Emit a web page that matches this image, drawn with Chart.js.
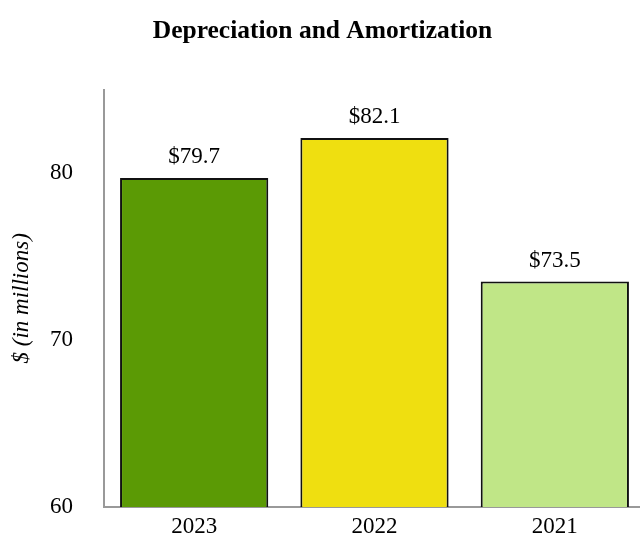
<!DOCTYPE html>
<html>
<head>
<meta charset="utf-8">
<script src="https://cdn.jsdelivr.net/npm/chart.js@4.4.0/dist/chart.umd.min.js"></script>
<style>
  html, body { margin: 0; padding: 0; background: #fff; overflow: hidden; }
  canvas { display: block; }
</style>
</head>
<body>
<!-- 원본 차트는 오른쪽이 살짝 잘려 있어 캔버스를 조금 넓게 둠 -->
<canvas id="chart" width="645" height="545"></canvas>
<script>
"use strict";

const years = ["2023", "2022", "2021"];
const amounts = [79.7, 82.1, 73.5];
const barColors = ["#5b9a05", "#efdf10", "#c0e687"];
const yTicks = [60, 70, 80];
const yTitle = "$ (in millions)";

const serif = "'Liberation Serif', 'Times New Roman', serif";

// 막대 위에 금액 표시 + 세로축 제목
const valueLabels = {
  id: "valueLabels",
  afterDatasetsDraw(chart) {
    const ctx = chart.ctx;
    const meta = chart.getDatasetMeta(0);
    const area = chart.chartArea;
    ctx.save();
    ctx.font = "23px " + serif;
    ctx.fillStyle = "#000";
    ctx.textAlign = "center";
    ctx.textBaseline = "alphabetic";
    meta.data.forEach((bar, i) => {
      ctx.fillText("$" + amounts[i].toFixed(1), bar.x, bar.y - 15);
    });

    // 세로축 제목
    ctx.translate(22, (area.top + area.bottom) / 2);
    ctx.rotate(-Math.PI / 2);
    ctx.font = "italic 23px " + serif;
    ctx.textBaseline = "middle";
    ctx.fillText(yTitle, 0, 0);
    ctx.restore();
  }
};

new Chart(document.getElementById("chart").getContext("2d"), {
  type: "bar",
  data: {
    labels: years,
    datasets: [
      {
        data: amounts,
        backgroundColor: barColors,
        borderColor: "#111",
        borderWidth: 2,
        borderSkipped: false,
        categoryPercentage: 1,
        barPercentage: 0.822
      }
    ]
  },
  options: {
    responsive: false,
    animation: false,
    layout: { padding: 0 },
    plugins: {
      legend: { display: false },
      tooltip: { enabled: false },
      title: {
        display: true,
        text: "Depreciation and Amortization",
        color: "#000",
        font: { family: serif, size: 25.5, weight: "bold" },
        padding: { top: 16, bottom: 43 }
      }
    },
    scales: {
      x: {
        grid: { display: false, drawTicks: false },
        border: { display: true, color: "#999", width: 2 },
        ticks: { color: "#000", font: { family: serif, size: 23 }, padding: 6 },
        afterFit(scale) { scale.height = 38; }
      },
      y: {
        min: 60,
        max: 85,
        grid: { display: false, drawTicks: false },
        border: { display: true, color: "#999", width: 2 },
        afterBuildTicks(scale) {
          scale.ticks = yTicks.map(v => ({ value: v }));
        },
        // lineHeight를 줄여 아래쪽 여백이 커지지 않게 함
        ticks: { color: "#000", font: { family: serif, size: 23, lineHeight: 0.5 }, padding: 31 },
        afterFit(scale) { scale.width = 104; }
      }
    }
  },
  plugins: [valueLabels]
});
</script>
</body>
</html>
